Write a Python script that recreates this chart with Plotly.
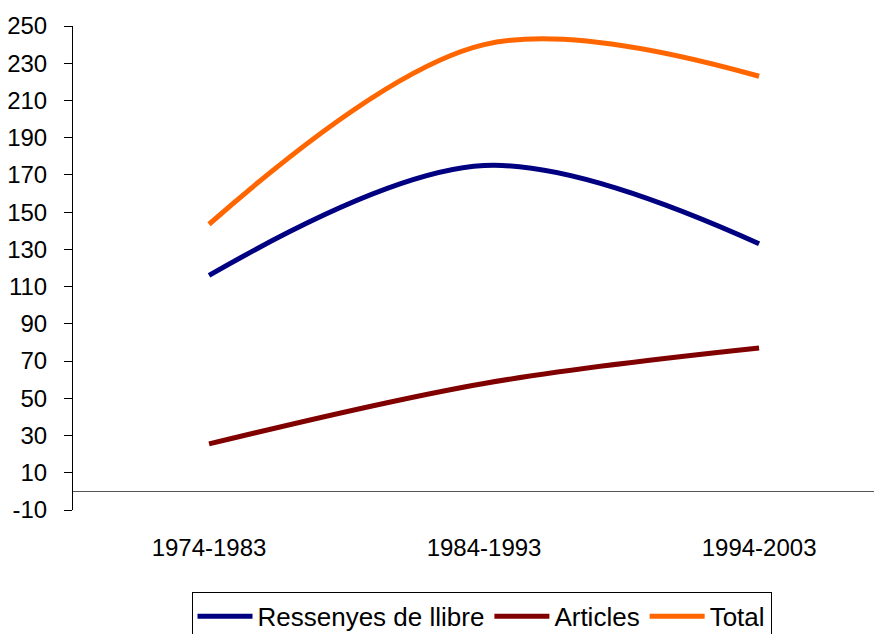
import plotly.graph_objects as go

# dades llegides del gràfic
periodes = ['1974-1983', '1984-1993', '1994-2003']
ressenyes = [116, 175, 133]
articles = [25.5, 58, 77]
total = [143.5, 240, 223]
ticks_y = list(range(-10, 251, 20))

series = [
    ('Ressenyes de llibre', ressenyes, '#000080'),
    ('Articles', articles, '#800000'),
    ('Total', total, '#FF6600'),
]

fig = go.Figure()
for nom, vals, color in series:
    fig.add_trace(go.Scatter(
        x=periodes, y=vals, name=nom, mode='lines',
        line=dict(color=color, width=5, shape='spline', smoothing=1),
    ))

fig.update_layout(
    width=882, height=634,
    margin=dict(l=65, r=0, t=18, b=132, autoexpand=False),
    paper_bgcolor='white', plot_bgcolor='white',
    font=dict(family='Liberation Sans, Arial', size=24, color='black'),
    showlegend=True,
    legend=dict(
        orientation='h', x=0.5, xanchor='center', y=-0.169, yanchor='top',
        bordercolor='black', borderwidth=1, font=dict(size=26),
        itemwidth=55, tracegroupgap=0,
    ),
    xaxis=dict(
        type='category', range=[-0.4946, 2.476], automargin=False,
        showline=False, showgrid=False, ticks='', ticklabelstandoff=21,
    ),
    yaxis=dict(
        range=[-10, 250], tickmode='array', automargin=False,
        tickvals=ticks_y, ticktext=[str(v) for v in ticks_y],
        showline=True, linecolor='black', linewidth=1,
        ticks='outside', ticklen=8, tickcolor='black', ticklabelstandoff=12,
        showgrid=False, zeroline=True, zerolinecolor='#555555', zerolinewidth=1,
    ),
)

fig.write_html('out.html')
